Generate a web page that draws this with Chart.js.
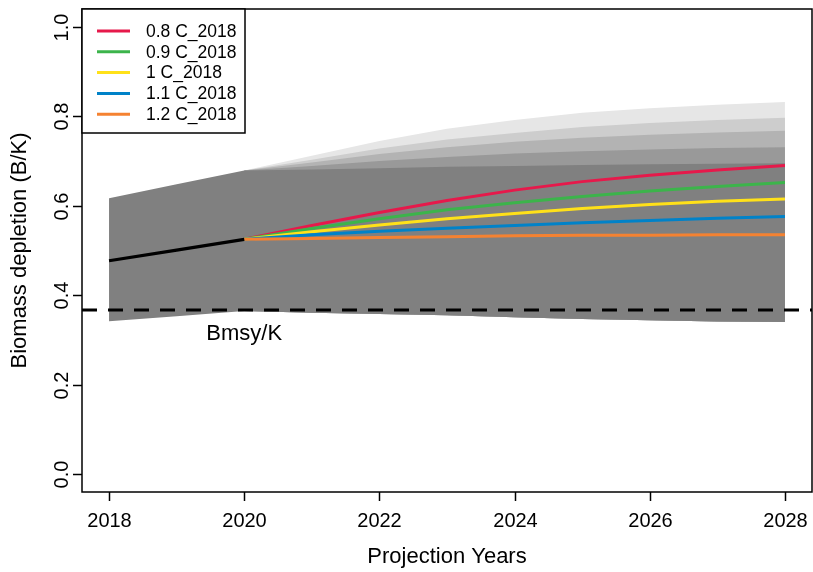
<!DOCTYPE html>
<html>
<head>
<meta charset="utf-8">
<script src="https://cdn.jsdelivr.net/npm/chart.js@4.4.1/dist/chart.umd.min.js"></script>
<style>
  html, body { margin: 0; padding: 0; background: #fff; }
  #wrap { width: 813px; height: 572px; }
</style>
</head>
<body>
<div id="wrap"><canvas id="c" width="813" height="572"></canvas></div>
<script>
// ---------------- data ----------------
const histYears = [2018, 2019, 2020];
const projYears = [2020, 2021, 2022, 2023, 2024, 2025, 2026, 2027, 2028];
const allYears  = [2018, 2019, 2020, 2021, 2022, 2023, 2024, 2025, 2026, 2027, 2028];

const histBiomass = [0.477, 0.501, 0.525];
const histUpper   = [0.617, 0.648, 0.679];

// lower bound of all uncertainty envelopes (2018..2028)
const lowerAll = [0.342, 0.353, 0.365, 0.361, 0.358, 0.355, 0.351, 0.347, 0.344, 0.341, 0.340];

const scenarioNames = ['0.8 C_2018', '0.9 C_2018', '1 C_2018', '1.1 C_2018', '1.2 C_2018'];
const scenarioColors = ['#e6194b', '#3cb44b', '#ffe119', '#0082c8', '#f58231'];

// median projected depletion per scenario (2020..2028)
const medC08 = [0.525, 0.556, 0.585, 0.612, 0.635, 0.654, 0.668, 0.680, 0.690];
const medC09 = [0.525, 0.549, 0.571, 0.591, 0.607, 0.621, 0.633, 0.643, 0.652];
const medC10 = [0.525, 0.542, 0.557, 0.571, 0.583, 0.594, 0.603, 0.610, 0.615];
const medC11 = [0.525, 0.535, 0.543, 0.550, 0.556, 0.562, 0.567, 0.572, 0.576];
const medC12 = [0.525, 0.527, 0.529, 0.531, 0.533, 0.534, 0.534, 0.535, 0.535];

// upper uncertainty bound per scenario (2020..2028)
const upC08 = [0.679, 0.712, 0.745, 0.772, 0.792, 0.808, 0.818, 0.826, 0.832];
const upC09 = [0.679, 0.703, 0.728, 0.748, 0.763, 0.776, 0.785, 0.792, 0.797];
const upC10 = [0.679, 0.697, 0.716, 0.731, 0.743, 0.752, 0.759, 0.764, 0.768];
const upC11 = [0.679, 0.689, 0.700, 0.709, 0.717, 0.722, 0.726, 0.729, 0.731];
const upC12 = [0.679, 0.681, 0.684, 0.687, 0.689, 0.691, 0.693, 0.694, 0.695];

const bandGreys = ['#e6e6e6', '#cdcdcd', '#b3b3b3', '#999999', '#808080'];

const bmsyK = 0.367;
const bmsyLabel = 'Bmsy/K';

const xTicks = [2018, 2020, 2022, 2024, 2026, 2028];
const yTicks = [0.0, 0.2, 0.4, 0.6, 0.8, 1.0];
const yTickLabels = ['0.0', '0.2', '0.4', '0.6', '0.8', '1.0'];
const xTitle = 'Projection Years';
const yTitle = 'Biomass depletion (B/K)';

// ---------------- helpers ----------------
const pts = (xs, ys) => xs.map((x, i) => ({ x: x, y: ys[i] }));
const X_MIN = 2017.6, X_MAX = 2028.4, Y_MIN = -0.04, Y_MAX = 1.04;
const FONT = '"Liberation Sans", Arial, Helvetica, sans-serif';

const medians = [medC08, medC09, medC10, medC11, medC12];
const uppers  = [upC08, upC09, upC10, upC11, upC12];

const lowerProj = lowerAll.slice(allYears.indexOf(2020));
const darkUpper = histUpper.slice(0, 2).concat(upC12);

const datasets = [];
// 0: full-range lower bound (hidden)
datasets.push({ data: pts(allYears, lowerAll), borderWidth: 0, pointRadius: 0, fill: false, order: 100 });
// 1: projection-range lower bound (hidden)
datasets.push({ data: pts(projYears, lowerProj), borderWidth: 0, pointRadius: 0, fill: false, order: 100 });
// light bands for scenarios 0.8..1.1
for (let k = 0; k < 4; k++) {
  datasets.push({
    data: pts(projYears, uppers[k]), borderWidth: 0, pointRadius: 0,
    backgroundColor: bandGreys[k], fill: { target: 1 }, order: 50 - k
  });
}
// dark common band (history + 1.2 scenario)
datasets.push({
  data: pts(allYears, darkUpper), borderWidth: 0, pointRadius: 0,
  backgroundColor: bandGreys[4], fill: { target: 0 }, order: 40
});
// Bmsy/K reference line
datasets.push({
  data: pts([X_MIN, X_MAX], [bmsyK, bmsyK]), borderColor: '#000', borderWidth: 3,
  borderDash: [15, 11], pointRadius: 0, fill: false, order: 30
});
// scenario medians
for (let k = 0; k < 5; k++) {
  datasets.push({
    data: pts(projYears, medians[k]), borderColor: scenarioColors[k], borderWidth: 3,
    pointRadius: 0, fill: false, order: 20 - k
  });
}
// history
datasets.push({
  data: pts(histYears, histBiomass), borderColor: '#000', borderWidth: 3.2,
  pointRadius: 0, fill: false, order: 1
});

const rStyle = {
  id: 'rStyle',
  afterDraw(chart) {
    const { ctx, chartArea: a, scales: { x, y } } = chart;
    ctx.save();
    ctx.strokeStyle = '#000';
    ctx.fillStyle = '#000';
    ctx.lineWidth = 1.5;
    // box
    ctx.strokeRect(a.left, a.top, a.right - a.left, a.bottom - a.top);
    // x ticks + labels
    ctx.font = '20px ' + FONT;
    ctx.textAlign = 'center';
    ctx.textBaseline = 'middle';
    xTicks.forEach(v => {
      const px = Math.round(x.getPixelForValue(v)) + 0.5;
      ctx.beginPath(); ctx.moveTo(px, a.bottom); ctx.lineTo(px, a.bottom + 9); ctx.stroke();
      ctx.fillText(String(v), px, a.bottom + 29);
    });
    // y ticks + rotated labels
    yTicks.forEach((v, i) => {
      const py = Math.round(y.getPixelForValue(v)) + 0.5;
      ctx.beginPath(); ctx.moveTo(a.left, py); ctx.lineTo(a.left - 9, py); ctx.stroke();
      ctx.save();
      ctx.translate(a.left - 20, py);
      ctx.rotate(-Math.PI / 2);
      ctx.fillText(yTickLabels[i], 0, 0);
      ctx.restore();
    });
    // axis titles
    ctx.font = '22px ' + FONT;
    ctx.fillText(xTitle, (a.left + a.right) / 2, a.bottom + 65);
    ctx.save();
    ctx.translate(20, (a.top + a.bottom) / 2);
    ctx.rotate(-Math.PI / 2);
    ctx.fillText(yTitle, 0, 0);
    ctx.restore();
    // Bmsy/K label
    ctx.font = '22px ' + FONT;
    ctx.fillText(bmsyLabel, x.getPixelForValue(2020), y.getPixelForValue(bmsyK) + 24);
    // legend
    const lx = a.left, ly = a.top, lw = 163, lh = 124;
    ctx.fillStyle = '#fff';
    ctx.fillRect(lx, ly, lw, lh);
    ctx.lineWidth = 1.5;
    ctx.strokeStyle = '#000';
    ctx.strokeRect(lx, ly, lw, lh);
    ctx.font = '17.5px ' + FONT;
    ctx.textAlign = 'left';
    scenarioNames.forEach((name, i) => {
      const ry = ly + 22 + i * 20.8;
      ctx.strokeStyle = scenarioColors[i];
      ctx.lineWidth = 3;
      ctx.beginPath(); ctx.moveTo(lx + 15, ry); ctx.lineTo(lx + 48, ry); ctx.stroke();
      ctx.fillStyle = '#000';
      ctx.fillText(name, lx + 64, ry + 1);
    });
    ctx.restore();
  }
};

new Chart(document.getElementById('c'), {
  type: 'line',
  data: { datasets: datasets },
  options: {
    responsive: false,
    animation: false,
    devicePixelRatio: 1,
    layout: { padding: { top: 9, right: 1, left: 0, bottom: 0 } },
    plugins: { legend: { display: false }, tooltip: { enabled: false }, filler: { propagate: false } },
    elements: { line: { tension: 0 } },
    scales: {
      x: {
        type: 'linear', min: X_MIN, max: X_MAX,
        grid: { display: false }, border: { display: false },
        ticks: { display: false },
        afterFit: s => { s.height = 80; }
      },
      y: {
        type: 'linear', min: Y_MIN, max: Y_MAX,
        grid: { display: false }, border: { display: false },
        ticks: { display: false },
        afterFit: s => { s.width = 82; }
      }
    }
  },
  plugins: [rStyle]
});
</script>
</body>
</html>
